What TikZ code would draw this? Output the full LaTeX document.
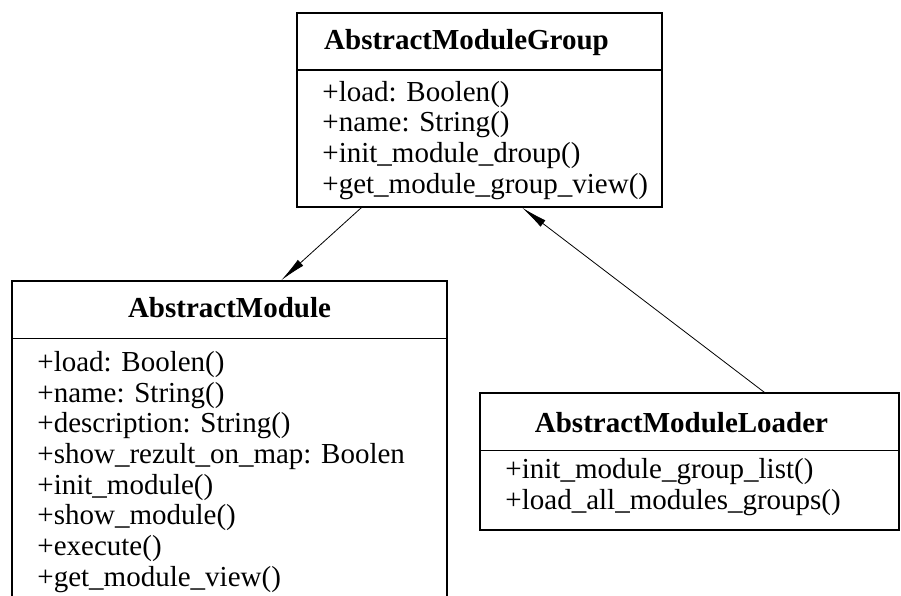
\documentclass[tikz,border=0pt]{standalone}
\usepackage{fontspec}
\setmainfont{Liberation Serif}
\usetikzlibrary{arrows.meta}

\begin{document}
\begin{tikzpicture}[x=1pt, y=-1pt,
  every node/.style={inner sep=0pt, font=\fontsize{29}{30.7}\selectfont},
  classbox/.style={draw, line width=1.5pt, rectangle},
  classname/.style={anchor=base, font=\fontsize{29}{30.7}\selectfont\bfseries},
  members/.style={anchor=base west, align=left},
  assoc/.style={line width=0.8pt, -{Latex[length=26pt, width=8pt]}}]

  \useasboundingbox (0, 0) rectangle (901, 596);
  \clip (0, 0) rectangle (901, 596);

  % AbstractModuleGroup
  \node[classbox, minimum width=365pt, minimum height=194pt] (grp) at (479.5, 110) {};
  \draw[line width=1.5pt] ([yshift=-58pt]grp.north west) -- ([yshift=-58pt]grp.north east);
  \node[classname] (grptitle) at ([xshift=-13pt, yshift=-37pt]grp.north) {AbstractModuleGroup};
  \node[members] (grpattr) at ([xshift=26pt, yshift=-181pt]grp.north west)
    {+load: Boolen()\\+name: String()\\+init\_module\_droup()\\+get\_module\_group\_view()};

  % AbstractModule (runs past the lower edge)
  \node[classbox, minimum width=435pt, minimum height=340pt] (mod) at (229.5, 451) {};
  \draw[line width=1.5pt] ([yshift=-58pt]mod.north west) -- ([yshift=-58pt]mod.north east);
  \node[classname] (modtitle) at ([yshift=-37pt]mod.north) {AbstractModule};
  \node[members] (modattr) at ([xshift=26pt, yshift=-306pt]mod.north west)
    {+load: Boolen()\\+name: String()\\+description: String()\\+show\_rezult\_on\_map: Boolen\\
     +init\_module()\\+show\_module()\\+execute()\\+get\_module\_view()};

  % AbstractModuleLoader
  \node[classbox, minimum width=419pt, minimum height=137pt] (ldr) at (689.5, 461.5) {};
  \draw[line width=1.5pt] ([yshift=-58pt]ldr.north west) -- ([yshift=-58pt]ldr.north east);
  \node[classname] (ldrtitle) at ([xshift=-8pt, yshift=-40pt]ldr.north) {AbstractModuleLoader};
  \node[members] (ldrattr) at ([xshift=26pt, yshift=-117pt]ldr.north west)
    {+init\_module\_group\_list()\\+load\_all\_modules\_groups()};

  % connectors
  \draw[assoc] ([xshift=65pt]grp.south west) -- ([xshift=270pt]mod.north west);
  \draw[assoc] ([xshift=285pt]ldr.north west) -- ([xshift=226pt]grp.south west);

\end{tikzpicture}
\end{document}
